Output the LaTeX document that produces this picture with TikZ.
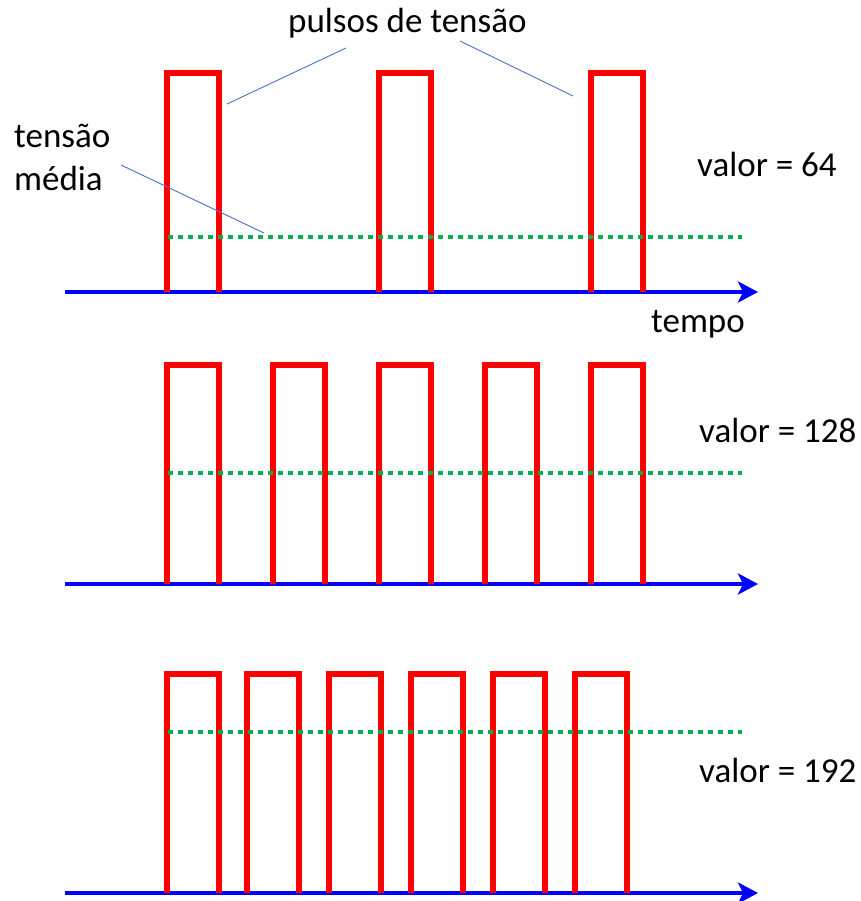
\documentclass[tikz,border=0pt]{standalone}
\usepackage{fontspec}
\setmainfont{Carlito}
\usetikzlibrary{arrows.meta}
\definecolor{pulsered}{RGB}{255,0,0}
\definecolor{axisblue}{RGB}{0,0,255}
\definecolor{avggreen}{RGB}{0,176,80}
\definecolor{leaderblue}{RGB}{68,114,196}
\tikzset{
  pulseline/.style={draw=pulsered, line width=5.5pt, line join=miter},
  axisline/.style={draw=axisblue, line width=3.5pt, -{Stealth[length=20pt,width=21pt,inset=5pt]}},
  avgline/.style={draw=avggreen, line width=4.5pt, dash pattern=on 5pt off 5pt},
  leader/.style={draw=leaderblue, line width=0.9pt},
  lbl/.style={anchor=base west, inner sep=0pt, font=\fontsize{35}{40}\selectfont}
}
\newcommand\pwmpulse[3]{\draw[pulseline] (#1,#3) -- (#1,#2) -- ({#1+52},#2) -- ({#1+52},#3);}
\begin{document}
\begin{tikzpicture}[x=1pt,y=-1pt]
\useasboundingbox (0,0) rectangle (860,901);
% panel 1
\coordinate (a1s) at (65,292);
\coordinate (a1e) at (758,292);
\draw[axisline] (a1s) -- (a1e);
\foreach \l in {167,379,591} {\pwmpulse{\l}{73}{292}}
\coordinate (g1s) at (168,237);
\coordinate (g1e) at (742,237);
\draw[avgline] (g1s) -- (g1e);
% panel 2
\coordinate (a2s) at (65,584);
\coordinate (a2e) at (758,584);
\draw[axisline] (a2s) -- (a2e);
\foreach \l in {167,273,379,485,591} {\pwmpulse{\l}{365}{584}}
\coordinate (g2s) at (168,473);
\coordinate (g2e) at (742,473);
\draw[avgline] (g2s) -- (g2e);
% panel 3
\coordinate (a3s) at (65,893);
\coordinate (a3e) at (758,893);
\draw[axisline] (a3s) -- (a3e);
\foreach \l in {167,247,329,411,493,575} {\pwmpulse{\l}{674}{893}}
\coordinate (g3s) at (168,732);
\coordinate (g3e) at (742,732);
\draw[avgline] (g3s) -- (g3e);
% labels
\node[lbl] (pulsos) at (288,33) {pulsos de tensão};
\node[lbl] (tensao) at (14,148) {tensão};
\node[lbl] (media) at (14,191) {média};
\node[lbl] (v64) at (697,177) {valor = 64};
\node[lbl] (tempo) at (651,332) {tempo};
\node[lbl] (v128) at (699,442) {valor = 128};
\node[lbl] (v192) at (699,782) {valor = 192};
% leaders
\coordinate (l1a) at (346,48);
\coordinate (l1b) at (227,104);
\coordinate (l2a) at (460,41);
\coordinate (l2b) at (573,96);
\coordinate (l3a) at (121,165);
\coordinate (l3b) at (264,233);
\draw[leader] (l1a) -- (l1b);
\draw[leader] (l2a) -- (l2b);
\draw[leader] (l3a) -- (l3b);
\end{tikzpicture}
\end{document}
